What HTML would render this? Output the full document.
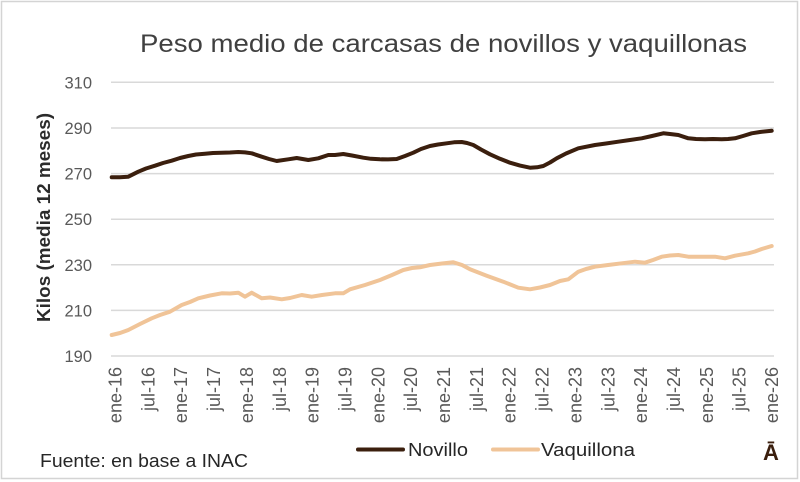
<!DOCTYPE html>
<html>
<head>
<meta charset="utf-8">
<style>
  html, body { margin:0; padding:0; background:#fff; }
  svg { display:block; }
  text { font-family: "Liberation Sans", "DejaVu Sans", sans-serif; }
</style>
</head>
<body>
<svg width="800" height="482" viewBox="0 0 800 482" xmlns="http://www.w3.org/2000/svg">
  <rect x="0" y="0" width="800" height="482" fill="#ffffff"/>
  <rect x="1.5" y="1.5" width="796" height="477" fill="none" stroke="#d4d4d4" stroke-width="1.5"/>

  <!-- Title -->
  <text x="140" y="52" font-size="25" fill="#404040" textLength="607" lengthAdjust="spacingAndGlyphs">Peso medio de carcasas de novillos y vaquillonas</text>

  <!-- Gridlines -->
  <g stroke="#d9d9d9" stroke-width="1.5">
    <line x1="111" y1="82.3" x2="774" y2="82.3"/>
    <line x1="111" y1="128" x2="774" y2="128"/>
    <line x1="111" y1="173.6" x2="774" y2="173.6"/>
    <line x1="111" y1="219.2" x2="774" y2="219.2"/>
    <line x1="111" y1="264.8" x2="774" y2="264.8"/>
    <line x1="111" y1="310.4" x2="774" y2="310.4"/>
    <line x1="111" y1="356" x2="774" y2="356"/>
  </g>

  <!-- Y tick labels -->
  <g font-size="16.5" fill="#595959" text-anchor="end">
    <text x="92" y="88.3">310</text>
    <text x="92" y="134">290</text>
    <text x="92" y="179.6">270</text>
    <text x="92" y="225.2">250</text>
    <text x="92" y="270.8">230</text>
    <text x="92" y="316.4">210</text>
    <text x="92" y="362">190</text>
  </g>

  <!-- Y axis title -->
  <text transform="translate(50,217.5) rotate(-90)" text-anchor="middle" font-size="18" font-weight="bold" fill="#2b2b2b" textLength="209" lengthAdjust="spacingAndGlyphs">Kilos (media 12 meses)</text>

  <!-- X tick labels -->
  <g font-size="18" fill="#595959" text-anchor="end">
    <text transform="translate(121.5,367) rotate(-90)">ene-16</text>
    <text transform="translate(154.4,367) rotate(-90)">jul-16</text>
    <text transform="translate(187.2,367) rotate(-90)">ene-17</text>
    <text transform="translate(220.1,367) rotate(-90)">jul-17</text>
    <text transform="translate(252.9,367) rotate(-90)">ene-18</text>
    <text transform="translate(285.8,367) rotate(-90)">jul-18</text>
    <text transform="translate(318.6,367) rotate(-90)">ene-19</text>
    <text transform="translate(351.5,367) rotate(-90)">jul-19</text>
    <text transform="translate(384.3,367) rotate(-90)">ene-20</text>
    <text transform="translate(417.2,367) rotate(-90)">jul-20</text>
    <text transform="translate(450,367) rotate(-90)">ene-21</text>
    <text transform="translate(482.9,367) rotate(-90)">jul-21</text>
    <text transform="translate(515.7,367) rotate(-90)">ene-22</text>
    <text transform="translate(548.6,367) rotate(-90)">jul-22</text>
    <text transform="translate(581.4,367) rotate(-90)">ene-23</text>
    <text transform="translate(614.3,367) rotate(-90)">jul-23</text>
    <text transform="translate(647.1,367) rotate(-90)">ene-24</text>
    <text transform="translate(680,367) rotate(-90)">jul-24</text>
    <text transform="translate(712.8,367) rotate(-90)">ene-25</text>
    <text transform="translate(745.7,367) rotate(-90)">jul-25</text>
    <text transform="translate(778,367) rotate(-90)">ene-26</text>
  </g>

  <!-- Vaquillona series -->
  <polyline fill="none" stroke="#f0c498" stroke-width="4" stroke-linejoin="round" stroke-linecap="round"
    points="111.7,335 120,333 128.3,330 140,324 151.7,318.3 160,315 170,311.7 181.7,305 190,302 198.3,298.3 210,295.5 221.7,293.3 230,293.5 238.3,292.7 245,296.7 251.7,292.7 261.7,298.3 270,297.5 281.7,299.3 290,298 301.7,295 311.7,296.7 322,295 335,293.3 343.3,293.3 350,289.3 365,285 380,280 392,275 403.3,270 412,268 420,267.3 430,265 442,263.5 453.3,262.3 462,265 470,269.3 486.7,275.7 503.3,281.7 518.3,287.7 530,289.3 540,287.5 550,285 560,281 568.3,279.3 578.3,271.7 586,269 595,266.7 608,265 621.7,263.3 635,261.7 645,262.7 653,260 661.7,256.7 670,255.5 678.3,255 688.3,256.7 700,256.7 715,256.7 725,258.3 735,255.7 748.3,253.3 755,251.5 761.7,249 771.7,246"/>

  <!-- Novillo series -->
  <polyline fill="none" stroke="#3b1f0e" stroke-width="4" stroke-linejoin="round" stroke-linecap="round"
    points="111.7,177.3 120,177.3 128.3,176.7 138.3,171.7 146,168.5 155,165.7 163,163 171.7,160.7 180,158 188.3,156 196,154.5 205,153.7 213,153 221.7,152.7 230,152.5 238.3,152 245,152.4 251.7,153.3 261.7,156.7 269,159 276.7,161 288.3,159.3 296.7,158 308.3,160 318.3,158.3 328.3,155 335,155 343.3,154 352,155.5 363.3,157.7 371,158.8 380,159.3 388,159.4 396.7,159 405,156 413.3,152.7 421,149 430,146 438,144.5 446.7,143.3 454,142.3 461.7,142 467,143 473.3,145 481,149.5 490,154.3 500,158.8 510,162.7 520,165.6 530,167.7 537,167.3 543.3,166 550,162.5 556.7,158.3 566,153.5 578.3,148.3 595,145 606,143.5 618.3,141.7 630,140 641.7,138.3 652,136 663.3,133.3 670,134 678.3,135 688.3,138.3 696,139 705,139.3 713,139 721.7,139.3 728,139 735,138.3 743,136 751.7,133.3 760,132 771.7,130.7"/>

  <!-- Legend -->
  <line x1="358" y1="449.5" x2="403" y2="449.5" stroke="#3b1f0e" stroke-width="4" stroke-linecap="round"/>
  <text x="408" y="456" font-size="18.5" fill="#262626" textLength="60" lengthAdjust="spacingAndGlyphs">Novillo</text>
  <line x1="493" y1="449.5" x2="538" y2="449.5" stroke="#f0c498" stroke-width="4" stroke-linecap="round"/>
  <text x="541" y="456" font-size="18.5" fill="#262626" textLength="94" lengthAdjust="spacingAndGlyphs">Vaquillona</text>

  <!-- Source -->
  <text x="40" y="467" font-size="18.5" fill="#262626" textLength="208" lengthAdjust="spacingAndGlyphs">Fuente: en base a INAC</text>

  <!-- Logo -->
  <text x="771" y="460" font-size="22" font-weight="bold" fill="#3b1f0e" text-anchor="middle">Ā</text>
</svg>
</body>
</html>
